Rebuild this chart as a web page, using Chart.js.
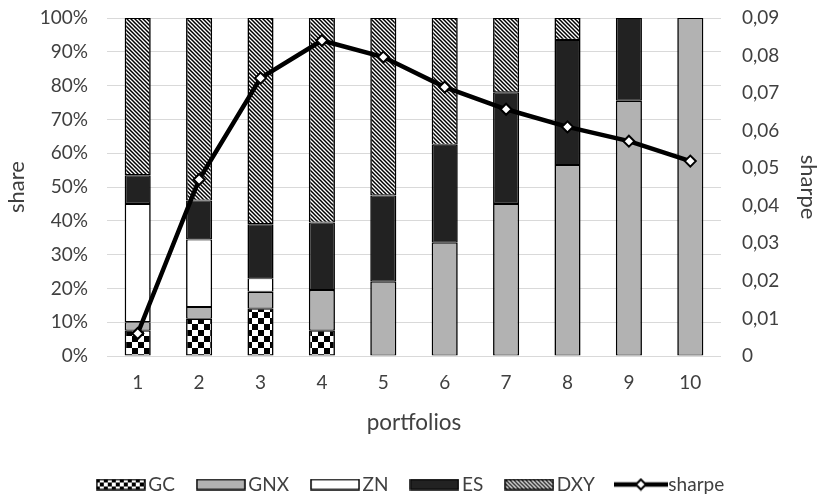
<!DOCTYPE html>
<html>
<head>
<meta charset="utf-8">
<script src="https://cdn.jsdelivr.net/npm/chart.js@4/dist/chart.umd.min.js"></script>
<style>
  html, body { margin: 0; padding: 0; background: #ffffff; }
  #c { display: block; }
</style>
</head>
<body>
<canvas id="c" width="817" height="494"></canvas>
<script>
// Portfolio composition (share of each asset, %) and the Sharpe ratio of each portfolio
const portfolios = ['1', '2', '3', '4', '5', '6', '7', '8', '9', '10'];
const gcShare  = [7.5, 11, 14, 7.5, 0, 0, 0, 0, 0, 0];
const gnxShare = [2.5, 3.5, 5, 12, 22, 33.5, 45, 56.5, 75.5, 100];
const znShare  = [35, 20, 4, 0, 0, 0, 0, 0, 0, 0];
const esShare  = [8.5, 11.5, 16, 20, 25.5, 29, 33, 37, 24.5, 0];
const dxyShare = [46.5, 54, 61, 60.5, 52.5, 37.5, 22, 6.5, 0, 0];
const sharpe   = [0.006, 0.047, 0.074, 0.084, 0.0796, 0.0716, 0.0657, 0.061, 0.0572, 0.0519];

const shareTickLabels  = ['0%', '10%', '20%', '30%', '40%', '50%', '60%', '70%', '80%', '90%', '100%'];
const sharpeTickLabels = ['0', '0,01', '0,02', '0,03', '0,04', '0,05', '0,06', '0,07', '0,08', '0,09'];

const FONT = 'Lato, "Open Sans", sans-serif';
const TEXT = '#404040';
const GRID = '#d9d9d9';
const GREY = '#b2b2b2';
const DARK = '#222222';

// ---- fill patterns ----
function tile(size, paint) {
  const c = document.createElement('canvas');
  c.width = size; c.height = size;
  const g = c.getContext('2d');
  paint(g, size);
  return c;
}
function checkerTile(sq) {
  return tile(sq * 2, (g) => {
    g.fillStyle = '#ffffff'; g.fillRect(0, 0, sq * 2, sq * 2);
    g.fillStyle = '#000000';
    g.fillRect(0, 0, sq, sq);
    g.fillRect(sq, sq, sq, sq);
  });
}
function hatchTile(s, w) {
  return tile(s, (g) => {
    g.fillStyle = '#ffffff'; g.fillRect(0, 0, s, s);
    g.strokeStyle = '#000000'; g.lineWidth = w;
    for (let k = -1; k <= 1; k++) {
      g.beginPath();
      g.moveTo(-s, -s + k * s);
      g.lineTo(2 * s, 2 * s + k * s);
      g.stroke();
    }
  });
}
const mainCtx = document.getElementById('c').getContext('2d');
const checkerFill = mainCtx.createPattern(checkerTile(6), 'repeat');
const hatchFill = mainCtx.createPattern(hatchTile(4, 1.5), 'repeat');

// ---- legend symbols ----
const ICON_W = 50, ICON_H = 10;
function boxIcon(fill) {
  const c = document.createElement('canvas');
  c.width = ICON_W; c.height = ICON_H + 2;
  const g = c.getContext('2d');
  g.fillStyle = typeof fill === 'function' ? fill(g) : fill;
  g.fillRect(1, 1, ICON_W - 2, ICON_H);
  g.strokeStyle = '#000000'; g.lineWidth = 1.5;
  g.strokeRect(1, 1, ICON_W - 2, ICON_H);
  return c;
}
function lineIcon() {
  const c = document.createElement('canvas');
  c.width = 54; c.height = 14;
  const g = c.getContext('2d');
  const cy = 7, cx = c.width / 2;
  g.strokeStyle = '#000000'; g.lineWidth = 4.5;
  g.beginPath(); g.moveTo(0, cy); g.lineTo(c.width, cy); g.stroke();
  g.beginPath();
  g.moveTo(cx, cy - 5); g.lineTo(cx + 5, cy); g.lineTo(cx, cy + 5); g.lineTo(cx - 5, cy); g.closePath();
  g.fillStyle = '#ffffff'; g.fill();
  g.lineWidth = 2; g.stroke();
  return c;
}
const legendIcons = [
  boxIcon((g) => g.createPattern(checkerTile(4), 'repeat')),
  boxIcon(GREY),
  boxIcon('#ffffff'),
  boxIcon(DARK),
  boxIcon((g) => g.createPattern(hatchTile(4, 1.3), 'repeat')),
  lineIcon()
];

function barSet(label, data, fill) {
  return {
    type: 'bar', label, data,
    backgroundColor: fill,
    borderColor: '#000000',
    borderWidth: { left: 1.6, right: 1.6, top: 1.1, bottom: 1.1 },
    borderSkipped: false,
    yAxisID: 'y', stack: 'share', order: 1,
    categoryPercentage: 1, barPercentage: 0.425
  };
}

// value axes: fixed width, and no extra room reserved above/below for tick labels
function fixVertical(width) {
  return (s) => { s.width = width; s.paddingTop = 0; s.paddingBottom = 0; };
}

new Chart(mainCtx, {
  data: {
    labels: portfolios,
    datasets: [
      barSet('GC', gcShare, checkerFill),
      barSet('GNX', gnxShare, GREY),
      barSet('ZN', znShare, '#ffffff'),
      barSet('ES', esShare, DARK),
      barSet('DXY', dxyShare, hatchFill),
      {
        type: 'line', label: 'sharpe', data: sharpe,
        yAxisID: 'y2', order: 0,
        borderColor: '#000000', borderWidth: 4.5, tension: 0, fill: false,
        pointStyle: 'rectRot', pointRadius: 5.5, pointHoverRadius: 5.5,
        pointBackgroundColor: '#ffffff', pointBorderColor: '#000000', pointBorderWidth: 2
      }
    ]
  },
  options: {
    responsive: false,
    animation: false,
    devicePixelRatio: 1,
    layout: { padding: { top: 18, left: 0, right: -10, bottom: -10 } },
    plugins: {
      tooltip: { enabled: false },
      legend: {
        position: 'bottom',
        labels: {
          usePointStyle: true,
          pointStyleWidth: 36,
          boxHeight: 10,
          padding: 28,
          color: TEXT,
          font: { family: FONT, size: 19 },
          sort: (a, b) => a.datasetIndex - b.datasetIndex,
          generateLabels(chart) {
            const items = Chart.defaults.plugins.legend.labels.generateLabels(chart);
            items.forEach((it) => { it.pointStyle = legendIcons[it.datasetIndex]; });
            return items;
          }
        }
      }
    },
    scales: {
      x: {
        stacked: true,
        grid: { display: false, drawTicks: false },
        border: { display: false },
        ticks: { color: TEXT, font: { family: FONT, size: 19 }, padding: 15 },
        title: { display: true, text: 'portfolios', color: TEXT, font: { family: FONT, size: 22.5 }, padding: { top: 0, bottom: 10.5 } },
        afterFit: (s) => { s.height = 91; }
      },
      y: {
        stacked: true, position: 'left',
        min: 0, max: 100,
        grid: { color: GRID, lineWidth: 1, drawTicks: false },
        border: { display: false },
        ticks: {
          stepSize: 10, padding: 19, color: TEXT,
          font: { family: FONT, size: 19 },
          callback: (v, i) => shareTickLabels[i]
        },
        title: { display: true, text: 'share', color: TEXT, font: { family: FONT, size: 22 }, padding: { top: 3.5, bottom: 0 } },
        afterFit: fixVertical(107)
      },
      y2: {
        position: 'right',
        min: 0, max: 0.09,
        grid: { display: false, drawTicks: false },
        border: { display: false },
        ticks: {
          stepSize: 0.01, padding: 21, color: TEXT,
          font: { family: FONT, size: 19 },
          callback: (v, i) => sharpeTickLabels[i]
        },
        title: { display: true, text: 'sharpe', color: TEXT, font: { family: FONT, size: 22, lineHeight: 0.82 }, padding: { top: 10, bottom: 0 } },
        afterFit: fixVertical(106)
      }
    }
  }
});
</script>
</body>
</html>
